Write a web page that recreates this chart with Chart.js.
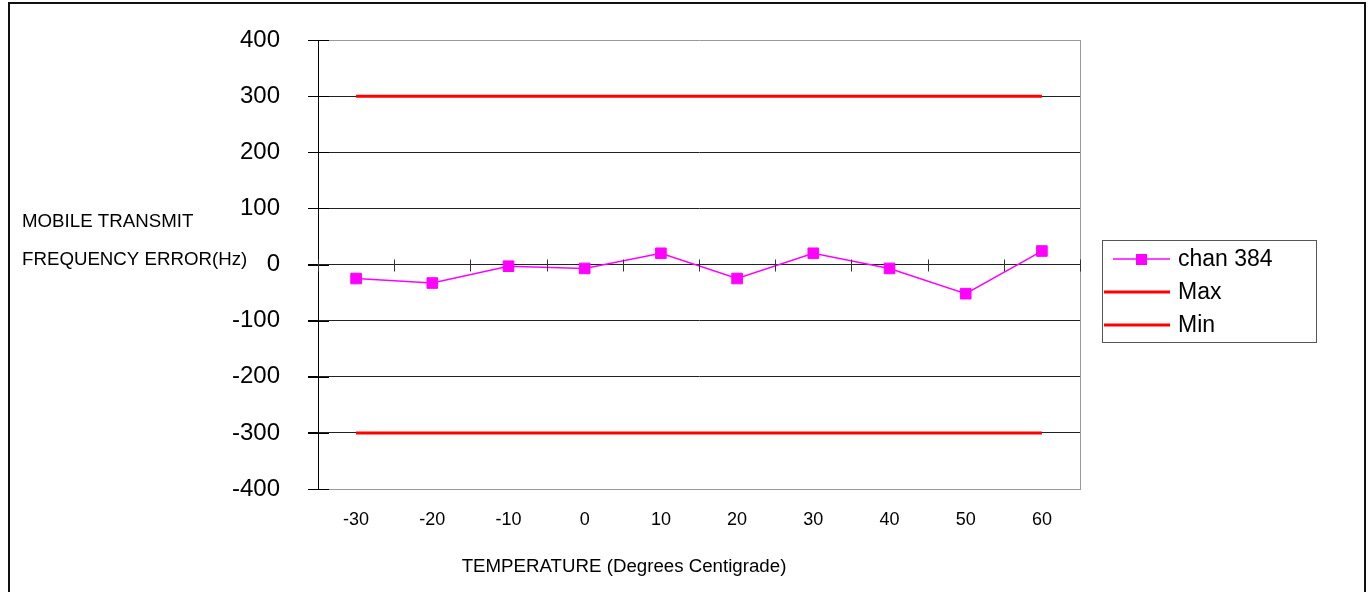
<!DOCTYPE html>
<html>
<head>
<meta charset="utf-8">
<title>Mobile transmit frequency error vs temperature</title>
<script src="https://cdn.jsdelivr.net/npm/chart.js@4.4.1/dist/chart.umd.min.js"></script>
<style>
    html, body { margin: 0; padding: 0; background: #fff; }
    #wrap { width: 1372px; height: 592px; }
</style>
</head>
<body>
<div id="wrap"><canvas id="freqChart" width="1372" height="592"></canvas></div>
<script>
// =======================
// DATA
// =======================
const temperatures = ['-30', '-20', '-10', '0', '10', '20', '30', '40', '50', '60'];
const chan384 = [-25, -33, -3, -7, 20, -25, 20, -7, -52, 24];
const maxLimit = [300, 300, 300, 300, 300, 300, 300, 300, 300, 300];
const minLimit = [-300, -300, -300, -300, -300, -300, -300, -300, -300, -300];
const yTicks = { min: -400, max: 400, step: 100 };

const FONT = '"Liberation Sans", Arial, Helvetica, sans-serif';
const MAGENTA = '#FF00FF';
const RED = '#FF0000';

/* =========================
   FRAME, AXIS TITLES, ZERO-LINE TICKS, LEGEND
========================= */
const decorPlugin = {
    id: 'decor',
    afterDraw(chart) {
        const { ctx, chartArea, scales } = chart;
        const x = scales.x, y = scales.y;
        ctx.save();

        // outer frame
        ctx.strokeStyle = '#111';
        ctx.lineWidth = 2;
        ctx.strokeRect(9, 3, 1356, 640);

        // plot border (right side) in grey
        ctx.strokeStyle = '#999';
        ctx.lineWidth = 1;
        ctx.beginPath();
        ctx.moveTo(chartArea.right + 0.5, chartArea.top);
        ctx.lineTo(chartArea.right + 0.5, chartArea.bottom + 1);
        ctx.stroke();

        // crossing tick marks on y axis
        ctx.strokeStyle = '#000';
        ctx.beginPath();
        for (let v = yTicks.min; v <= yTicks.max; v += yTicks.step) {
            const py = Math.round(y.getPixelForValue(v)) + 0.5;
            ctx.moveTo(chartArea.left - 10, py);
            ctx.lineTo(chartArea.left + 11, py);
        }
        ctx.stroke();

        // category tick marks across the zero line
        const zy = Math.round(y.getPixelForValue(0)) + 0.5;
        const n = temperatures.length;
        const step = (x.getPixelForTick(n - 1) - x.getPixelForTick(0)) / (n - 1);
        ctx.strokeStyle = '#333';
        ctx.beginPath();
        for (let i = 0; i <= n; i++) {
            const px = Math.round(x.getPixelForTick(0) - step / 2 + i * step) + 0.5;
            ctx.moveTo(px, zy - 6);
            ctx.lineTo(px, zy + 6);
        }
        ctx.stroke();

        // axis titles
        ctx.fillStyle = '#000';
        ctx.font = '18.7px ' + FONT;
        ctx.textBaseline = 'middle';
        ctx.textAlign = 'left';
        ctx.fillText('MOBILE TRANSMIT', 22, 222);
        ctx.fillText('FREQUENCY ERROR(Hz)', 22, 260);
        ctx.textAlign = 'center';
        ctx.fillText('TEMPERATURE (Degrees Centigrade)', 624, 567);

        // legend box
        const lx = 1102, ly = 240, lw = 214, lh = 102;
        ctx.fillStyle = '#fff';
        ctx.fillRect(lx, ly, lw, lh);
        ctx.strokeStyle = '#555';
        ctx.lineWidth = 1;
        ctx.strokeRect(lx + 0.5, ly + 0.5, lw, lh);

        const rows = [259, 292, 325];
        chart.data.datasets.forEach((ds, i) => {
            const ry = rows[i];
            ctx.strokeStyle = ds.borderColor;
            ctx.lineWidth = ds.borderWidth;
            ctx.beginPath();
            ctx.moveTo(i === 0 ? 1113 : 1104, ry);
            ctx.lineTo(1170, ry);
            ctx.stroke();
            if (ds.pointRadius > 0) {
                ctx.fillStyle = ds.pointBackgroundColor;
                ctx.fillRect(1136, ry - 5, 11, 11);
            }
            ctx.fillStyle = '#000';
            ctx.font = '23px ' + FONT;
            ctx.textAlign = 'left';
            ctx.textBaseline = 'middle';
            ctx.fillText(ds.label, 1178, ry + 1);
        });

        ctx.restore();
    }
};

/* =========================
   CHART
========================= */
const ctx = document.getElementById('freqChart').getContext('2d');

new Chart(ctx, {
    type: 'line',
    data: {
        labels: temperatures,
        datasets: [
            {
                label: 'chan 384',
                data: chan384,
                borderColor: MAGENTA,
                borderWidth: 1.5,
                pointStyle: 'rect',
                pointRadius: 7.5,
                pointBackgroundColor: MAGENTA,
                pointBorderColor: MAGENTA,
                pointBorderWidth: 1,
                tension: 0,
                order: 0
            },
            {
                label: 'Max',
                data: maxLimit,
                borderColor: RED,
                borderWidth: 3,
                pointRadius: 0,
                tension: 0,
                order: 1
            },
            {
                label: 'Min',
                data: minLimit,
                borderColor: RED,
                borderWidth: 3,
                pointRadius: 0,
                tension: 0,
                order: 2
            }
        ]
    },
    options: {
        responsive: false,
        devicePixelRatio: 1,
        animation: false,
        layout: { padding: { top: 40, right: 292, bottom: 0, left: 0 } },
        plugins: {
            legend: { display: false },
            tooltip: { enabled: false }
        },
        scales: {
            x: {
                type: 'category',
                offset: true,
                grid: { display: false },
                border: { display: true, color: '#999', width: 1 },
                ticks: {
                    color: '#000',
                    font: { family: FONT, size: 18 },
                    padding: 12,
                    maxRotation: 0
                },
                afterFit(scale) { scale.height = 103; }
            },
            y: {
                min: yTicks.min,
                max: yTicks.max,
                grid: {
                    color: c => (c.tick && Math.abs(c.tick.value) === yTicks.max) ? '#999' : '#222',
                    lineWidth: 1,
                    tickLength: 10,
                    tickColor: '#000'
                },
                border: { display: true, color: '#000', width: 1 },
                ticks: {
                    stepSize: yTicks.step,
                    color: '#000',
                    font: { family: FONT, size: 24 },
                    padding: 28
                },
                afterFit(scale) {
                    scale.width = 318;
                    scale.paddingTop = 0;
                    scale.paddingBottom = 0;
                }
            }
        }
    },
    plugins: [decorPlugin]
});
</script>
</body>
</html>
